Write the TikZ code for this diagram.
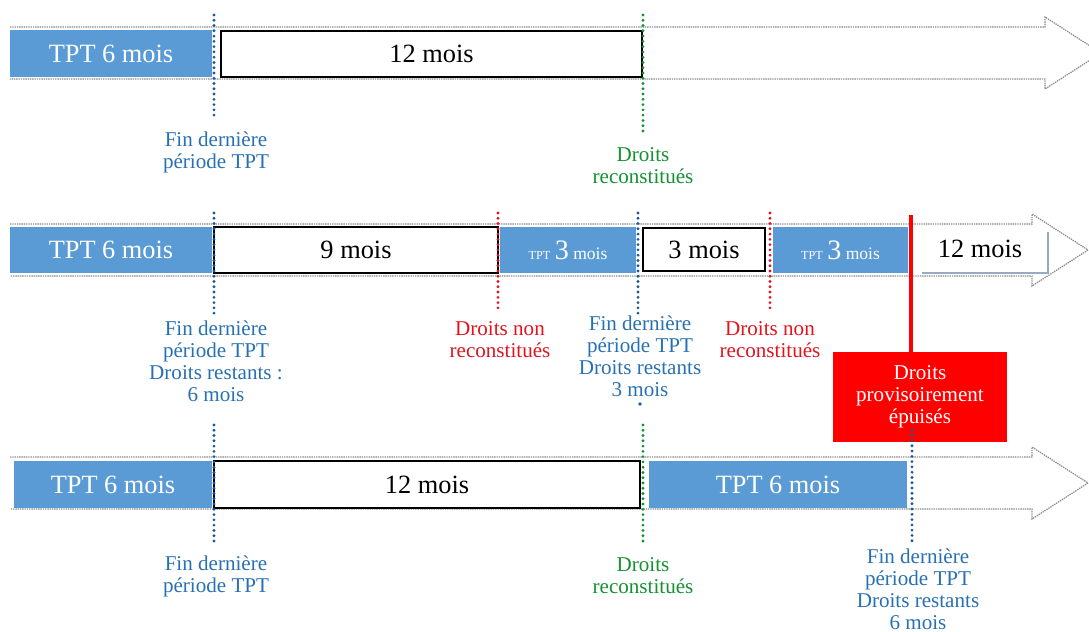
\documentclass[tikz,border=0pt]{standalone}
\usepackage{fontspec}
\setmainfont{Liberation Serif}
\definecolor{tptblue}{RGB}{91,155,213}
\definecolor{finblue}{RGB}{40,112,180}
\definecolor{dotblue}{RGB}{25,85,160}
\definecolor{recgreen}{RGB}{20,145,50}
\definecolor{nonred}{RGB}{225,20,30}
\definecolor{edgegray}{RGB}{150,170,195}
\begin{document}
\begin{tikzpicture}[x=0.02cm, y=-0.02cm,
    tpt/.style={fill=tptblue},
    libre/.style={fill=white, draw=black, line width=1.4pt},
    bartxt/.style={font=\fontsize{15}{18}\selectfont},
    marker/.style={line width=1.8pt, line cap=round, dash pattern=on 0pt off 3pt},
    lbl/.style={align=center, font=\fontsize{12}{12.6}\selectfont},
    contour/.style={draw=gray!90, line width=0.7pt, dash pattern=on 0.8pt off 0.5pt}]
        \useasboundingbox (0,0) rectangle (1089,632);
        % arrow outlines
        \foreach \yt/\hx/\tx in {27/1045/1101, 224/1032/1088, 457/1032/1088}
        \draw[contour] (10,\yt) -- (\hx,\yt) -- (\hx,\yt-10) -- (\tx,\yt+26)
            -- (\hx,\yt+62) -- (\hx,\yt+52) -- (10,\yt+52);
        % row 1
        \fill[tpt] (10,30) rectangle (212,77) node[pos=.5, bartxt, white] (tpta) {TPT 6 mois};
        \draw[libre] (221,31) rectangle (642,77) node[pos=.5, bartxt] (douzea) {12 mois};
        % row 2
        \fill[tpt] (10,227) rectangle (212,273) node[pos=.5, bartxt, white] (tptb) {TPT 6 mois};
        \draw[libre] (214,227) rectangle (498,273) node[pos=.5, bartxt] (neuf) {9 mois};
        \fill[tpt] (500,227) rectangle (636,273) node[pos=.5, white] (tptc)
            {{\fontsize{7}{8}\selectfont TPT} {\fontsize{16}{18}\selectfont 3} {\fontsize{10}{12}\selectfont mois}};
        \draw[libre] (643,228) rectangle (765,271) node[pos=.5, bartxt] (trois) {3 mois};
        \fill[tpt] (773,227) rectangle (908,273) node[pos=.5, white] (tptd)
            {{\fontsize{7}{8}\selectfont TPT} {\fontsize{16}{18}\selectfont 3} {\fontsize{10}{12}\selectfont mois}};
        \draw[edgegray, line width=0.8pt] (922,273) -- (1048,273) -- (1048,232);
        \node[bartxt] (douzeb) at (980,249) {12 mois};
        % row 3
        \fill[tpt] (14,461) rectangle (212,508) node[pos=.5, bartxt, white] (tpte) {TPT 6 mois};
        \draw[libre] (214,461) rectangle (640,508) node[pos=.5, bartxt] (douzec) {12 mois};
        \fill[tpt] (649,461) rectangle (907,508) node[pos=.5, bartxt, white] (tptf) {TPT 6 mois};
        % dotted markers
        \foreach \x/\ya/\yb/\c in {214/15/120/dotblue, 643/15/133/recgreen,
            214/213/318/dotblue, 498/213/310/nonred, 638/213/314/dotblue, 770/213/312/nonred,
            214/425/545/dotblue, 643/425/545/recgreen, 912/430/545/dotblue}
        \draw[marker, \c] (\x,\ya) -- (\x,\yb);
        \fill[dotblue] (640,404) circle (1.1pt);
        % droits provisoirement epuises
        \node[fill=red, text=white, lbl, minimum width=3.5cm, minimum height=1.8cm] (epuise) at (920,397)
            {Droits\\provisoirement\\épuisés};
        \coordinate (coupure) at (911,215);
        \draw[red, line width=2.4pt] (coupure) -- (coupure |- epuise.north);
        \draw[marker, dotblue] (912,430) -- (912,442);
        % labels
        \node[lbl, finblue] (fina) at (216,152) {Fin dernière\\période TPT};
        \node[lbl, recgreen] (reca) at (643,166) {Droits\\reconstitués};
        \node[lbl, finblue] (finb) at (216,361) {Fin dernière\\période TPT\\Droits restants :\\6 mois};
        \node[lbl, nonred] (nona) at (500,340) {Droits non\\reconstitués};
        \node[lbl, finblue] (finc) at (640,356) {Fin dernière\\période TPT\\Droits restants\\3 mois};
        \node[lbl, nonred] (nonb) at (770,340) {Droits non\\reconstitués};
        \node[lbl, finblue] (find) at (216,576) {Fin dernière\\période TPT};
        \node[lbl, recgreen] (recb) at (643,576) {Droits\\reconstitués};
        \node[lbl, finblue] (fine) at (918,589) {Fin dernière\\période TPT\\Droits restants\\6 mois};
    \end{tikzpicture}
\end{document}
